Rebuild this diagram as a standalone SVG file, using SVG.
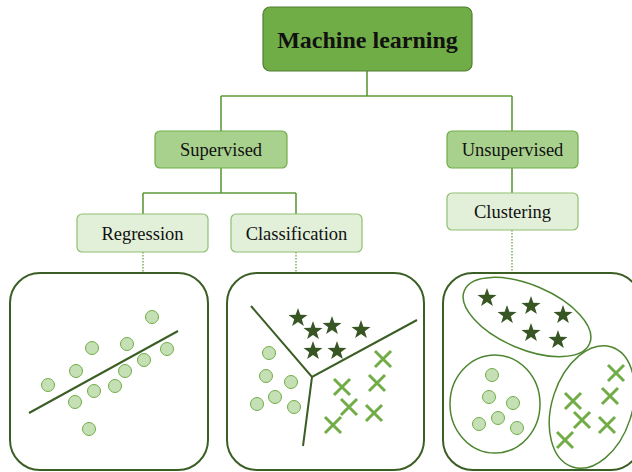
<svg xmlns="http://www.w3.org/2000/svg" xmlns:xlink="http://www.w3.org/1999/xlink" width="632" height="472" viewBox="0 0 632 472">
<defs>
<style>
.t{font-family:"Liberation Serif","Times New Roman",serif;fill:#111;text-anchor:middle}
.conn{fill:none;stroke:#5E9A3A;stroke-width:1.6}
.dot{fill:none;stroke:#5E9A3A;stroke-width:1.2;stroke-dasharray:1.5 1.5}
.panel{fill:#fff;stroke:#3B5E25;stroke-width:2}
.pt{fill:#C5E0B4;stroke:#70AD47;stroke-width:1}
.sep{stroke:#3B5E25;stroke-width:2;fill:none}
.grp{fill:none;stroke:#4E8530;stroke-width:1.5}
.x{stroke:#70AD47;stroke-width:3;fill:none}
.st{fill:#375623}
</style>
<path id="star" d="M0,-10 L2.35,-3.24 L9.51,-3.09 L3.8,1.24 L5.88,8.09 L0,4 L-5.88,8.09 L-3.8,1.24 L-9.51,-3.09 L-2.35,-3.24 Z"/>
<path id="cross" d="M-8,-8 L8,8 M8,-8 L-8,8"/>
</defs>
<rect width="632" height="472" fill="#fff"/>
<g id="connectors">
<path class="conn" d="M367,71 V96 M221,96 H512 M221,96 V131 M512,96 V131"/>
<path class="conn" d="M221,168 V193 M143,193 H296 M143,193 V214 M296,193 V214"/>
<path class="conn" d="M512,168 V193"/>
<path class="dot" d="M143,252 V272 M296,252 V272 M512,230 V272"/>
</g>
<g id="machine-learning">
<rect x="263" y="7" width="209" height="64" rx="7" fill="#70AD47" stroke="#507E32" stroke-width="1.2"/>
<text class="t" x="367.5" y="48" font-size="24" font-weight="bold">Machine learning</text>
</g>
<g id="supervised">
<rect x="155" y="131" width="132" height="37" rx="5" fill="#A9D18E" stroke="#70AD47" stroke-width="1.2"/>
<text class="t" x="221" y="156" font-size="18.5">Supervised</text>
</g>
<g id="unsupervised">
<rect x="447" y="131" width="131" height="37" rx="5" fill="#A9D18E" stroke="#70AD47" stroke-width="1.2"/>
<text class="t" x="512.5" y="156" font-size="18.5">Unsupervised</text>
</g>
<g id="regression">
<rect x="77" y="214" width="131" height="38" rx="5" fill="#E2F0D9" stroke="#8FBF72" stroke-width="1.2"/>
<text class="t" x="142.5" y="240" font-size="18.5">Regression</text>
</g>
<g id="classification">
<rect x="231" y="214" width="131" height="38" rx="5" fill="#E2F0D9" stroke="#8FBF72" stroke-width="1.2"/>
<text class="t" x="296.5" y="240" font-size="18.5">Classification</text>
</g>
<g id="clustering">
<rect x="447" y="193" width="131" height="37" rx="5" fill="#E2F0D9" stroke="#8FBF72" stroke-width="1.2"/>
<text class="t" x="512.5" y="218" font-size="18.5">Clustering</text>
</g>
<g id="regression-panel">
<rect class="panel" x="10" y="273" width="198" height="197" rx="30"/>
<line class="sep" x1="29" y1="413" x2="178" y2="331"/>
<circle class="pt" cx="152" cy="317" r="6.5"/>
<circle class="pt" cx="92" cy="348" r="6.5"/>
<circle class="pt" cx="127" cy="344" r="6.5"/>
<circle class="pt" cx="167" cy="349" r="6.5"/>
<circle class="pt" cx="144" cy="360" r="6.5"/>
<circle class="pt" cx="76" cy="371" r="6.5"/>
<circle class="pt" cx="125" cy="371" r="6.5"/>
<circle class="pt" cx="48" cy="385" r="6.5"/>
<circle class="pt" cx="115" cy="386" r="6.5"/>
<circle class="pt" cx="94" cy="391" r="6.5"/>
<circle class="pt" cx="75" cy="402" r="6.5"/>
<circle class="pt" cx="89" cy="429" r="6.5"/>
</g>
<g id="classification-panel">
<rect class="panel" x="227" y="273" width="197" height="197" rx="30"/>
<path class="sep" d="M251,306 L312,377 L417,320 M312,377 L303,446"/>
<use href="#star" class="st" x="298" y="318"/>
<use href="#star" class="st" x="313" y="331"/>
<use href="#star" class="st" x="332" y="326"/>
<use href="#star" class="st" x="361" y="330"/>
<use href="#star" class="st" x="313" y="351"/>
<use href="#star" class="st" x="337" y="351"/>
<circle class="pt" cx="269" cy="353" r="6.5"/>
<circle class="pt" cx="266" cy="376" r="6.5"/>
<circle class="pt" cx="291" cy="382" r="6.5"/>
<circle class="pt" cx="275" cy="397" r="6.5"/>
<circle class="pt" cx="257" cy="404" r="6.5"/>
<circle class="pt" cx="294" cy="407" r="6.5"/>
<use href="#cross" class="x" x="383" y="359"/>
<use href="#cross" class="x" x="342" y="387"/>
<use href="#cross" class="x" x="377" y="383"/>
<use href="#cross" class="x" x="349" y="407"/>
<use href="#cross" class="x" x="374" y="413"/>
<use href="#cross" class="x" x="333" y="425"/>
</g>
<g id="clustering-panel">
<rect class="panel" x="443" y="273" width="198" height="197" rx="30"/>
<ellipse class="grp" cx="527" cy="317" rx="68" ry="32" transform="rotate(23 527 317)"/>
<ellipse class="grp" cx="495" cy="404" rx="45" ry="49"/>
<ellipse class="grp" cx="592" cy="407" rx="40" ry="63" transform="rotate(18 592 407)"/>
<use href="#star" class="st" x="487" y="298"/>
<use href="#star" class="st" x="507" y="315"/>
<use href="#star" class="st" x="531" y="306"/>
<use href="#star" class="st" x="563" y="315"/>
<use href="#star" class="st" x="531" y="333"/>
<use href="#star" class="st" x="558" y="340"/>
<circle class="pt" cx="492" cy="375" r="6.5"/>
<circle class="pt" cx="489" cy="397" r="6.5"/>
<circle class="pt" cx="513" cy="403" r="6.5"/>
<circle class="pt" cx="498" cy="418" r="6.5"/>
<circle class="pt" cx="479" cy="424" r="6.5"/>
<circle class="pt" cx="517" cy="428" r="6.5"/>
<use href="#cross" class="x" x="616" y="373"/>
<use href="#cross" class="x" x="610" y="396"/>
<use href="#cross" class="x" x="573" y="401"/>
<use href="#cross" class="x" x="582" y="420"/>
<use href="#cross" class="x" x="607" y="425"/>
<use href="#cross" class="x" x="565" y="440"/>
</g>
</svg>
